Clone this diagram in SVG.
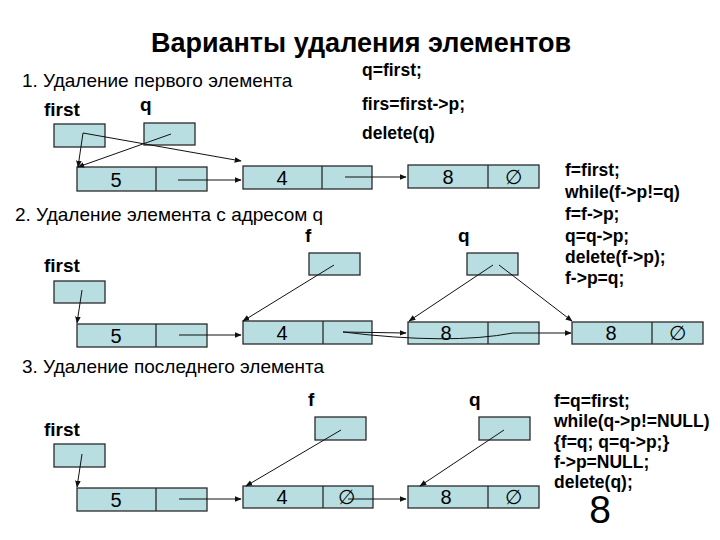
<svg xmlns="http://www.w3.org/2000/svg" width="720" height="540" viewBox="0 0 720 540">
<style>
.box{fill:#b8dee2;stroke:#2a2a2a;stroke-width:1.3}
.div{stroke:#2a2a2a;stroke-width:1.3}
.val{font-family:"Liberation Sans",Arial,sans-serif;font-size:20px;fill:#000;text-anchor:middle}
.lbl{font-family:"Liberation Sans",Arial,sans-serif;font-size:19px;font-weight:bold;fill:#000}
.hdr{font-family:"Liberation Sans",Arial,sans-serif;font-size:19px;fill:#000}
.code{font-family:"Liberation Sans",Arial,sans-serif;font-size:17.5px;font-weight:bold;fill:#000}
.ln{stroke:#111;stroke-width:1;fill:none;marker-end:url(#ah)}
.pl{stroke:#111;stroke-width:1;fill:none}
</style>
<defs>
<marker id="ah" viewBox="0 0 10 10" refX="9" refY="5" markerWidth="7" markerHeight="7" orient="auto" markerUnits="userSpaceOnUse">
<path d="M0,1 L10,5 L0,9 z" fill="#111"/>
</marker>
</defs>
<rect width="720" height="540" fill="#fff"/>
<text x="361" y="52" text-anchor="middle" font-family="'Liberation Sans',Arial,sans-serif" font-size="27" font-weight="bold">Варианты удаления элементов</text>

<!-- Section 1 -->
<text class="hdr" x="22" y="87">1. Удаление первого элемента</text>
<text class="code" x="362" y="76">q=first;</text>
<text class="code" x="362" y="110">firs=first-&gt;p;</text>
<text class="code" x="362" y="139">delete(q)</text>
<text class="lbl" x="44" y="116">first</text>
<text class="lbl" x="140" y="111">q</text>
<g id="s1-first"><rect class="box" x="54" y="124" width="51" height="23"/></g>
<g id="s1-q"><rect class="box" x="144" y="123" width="51" height="22"/></g>
<g id="s1-n5"><rect class="box" x="77" y="167" width="130" height="24"/><line class="div" x1="156" y1="167" x2="156" y2="191"/><text class="val" x="116" y="187">5</text></g>
<g id="s1-n4"><rect class="box" x="243" y="166" width="129" height="23"/><line class="div" x1="322" y1="166" x2="322" y2="189"/><text class="val" x="282" y="185">4</text></g>
<g id="s1-n8"><rect class="box" x="408" y="165" width="131" height="23"/><line class="div" x1="488" y1="165" x2="488" y2="188"/><text class="val" x="448" y="184">8</text><text class="val" x="513" y="184">∅</text></g>

<!-- Section 1 code right -->
<text class="code" x="565" y="176">f=first;</text>
<text class="code" x="565" y="198">while(f-&gt;p!=q)</text>
<text class="code" x="565" y="220">f=f-&gt;p;</text>
<text class="code" x="565" y="242">q=q-&gt;p;</text>
<text class="code" x="565" y="263">delete(f-&gt;p);</text>
<text class="code" x="565" y="284">f-&gt;p=q;</text>

<!-- Section 2 -->
<text class="hdr" x="15" y="221">2. Удаление элемента с адресом q</text>
<text class="lbl" x="44" y="272">first</text>
<text class="lbl" x="305" y="242">f</text>
<text class="lbl" x="458" y="242">q</text>
<g id="s2-first"><rect class="box" x="54" y="281" width="51" height="22"/></g>
<g id="s2-f"><rect class="box" x="309" y="253" width="51" height="22"/></g>
<g id="s2-q"><rect class="box" x="467" y="253" width="51" height="22"/></g>
<g id="s2-n5"><rect class="box" x="77" y="324" width="130" height="23"/><line class="div" x1="156" y1="324" x2="156" y2="347"/><text class="val" x="116" y="343">5</text></g>
<g id="s2-n4"><rect class="box" x="243" y="321" width="129" height="23"/><line class="div" x1="323" y1="321" x2="323" y2="344"/><text class="val" x="282" y="340">4</text></g>
<g id="s2-n8a"><rect class="box" x="408" y="322" width="131" height="22"/><line class="div" x1="488" y1="322" x2="488" y2="344"/><text class="val" x="446" y="340">8</text></g>
<g id="s2-n8b"><rect class="box" x="572" y="322" width="131" height="22"/><line class="div" x1="652" y1="322" x2="652" y2="344"/><text class="val" x="611" y="340">8</text><text class="val" x="677" y="340">∅</text></g>

<!-- Section 3 -->
<text class="hdr" x="22" y="373">3. Удаление последнего элемента</text>
<text class="lbl" x="44" y="436">first</text>
<text class="lbl" x="308" y="406">f</text>
<text class="lbl" x="469" y="406">q</text>
<g id="s3-first"><rect class="box" x="54" y="444" width="51" height="23"/></g>
<g id="s3-f"><rect class="box" x="315" y="417" width="51" height="23"/></g>
<g id="s3-q"><rect class="box" x="479" y="417" width="51" height="23"/></g>
<g id="s3-n5"><rect class="box" x="77" y="488" width="130" height="23"/><line class="div" x1="156" y1="488" x2="156" y2="511"/><text class="val" x="116" y="507">5</text></g>
<g id="s3-n4"><rect class="box" x="243" y="486" width="130" height="22"/><line class="div" x1="323" y1="486" x2="323" y2="508"/><text class="val" x="282" y="504">4</text><text class="val" x="346" y="504">∅</text></g>
<g id="s3-n8"><rect class="box" x="408" y="486" width="131" height="22"/><line class="div" x1="488" y1="486" x2="488" y2="508"/><text class="val" x="446" y="504">8</text><text class="val" x="513" y="504">∅</text></g>

<text class="code" x="554" y="407">f=q=first;</text>
<text class="code" x="554" y="427">while(q-&gt;p!=NULL)</text>
<text class="code" x="554" y="448">{f=q; q=q-&gt;p;}</text>
<text class="code" x="554" y="468">f-&gt;p=NULL;</text>
<text class="code" x="554" y="488">delete(q);</text>
<text x="600" y="523" text-anchor="middle" font-family="'Liberation Sans',Arial,sans-serif" font-size="39">8</text>

<g id="connectors">
<!-- section 1 -->
<line class="ln" x1="83" y1="133" x2="78" y2="167"/>
<line class="ln" x1="83" y1="133" x2="241" y2="161"/>
<line class="ln" x1="171" y1="134" x2="78" y2="167"/>
<line class="ln" x1="178" y1="180" x2="241" y2="180"/>
<line class="ln" x1="345" y1="177" x2="406" y2="177"/>
<!-- section 2 -->
<line class="ln" x1="82" y1="290" x2="77" y2="323"/>
<line class="ln" x1="334" y1="265" x2="243" y2="321"/>
<line class="ln" x1="179" y1="335" x2="241" y2="335"/>
<line class="ln" x1="343" y1="332" x2="406" y2="333"/>
<path class="pl" d="M343,332 Q450,345 513,333"/>
<line class="ln" x1="513" y1="333" x2="571" y2="333"/>
<line class="ln" x1="493" y1="265" x2="409" y2="321"/>
<line class="ln" x1="499" y1="265" x2="572" y2="321"/>
<!-- section 3 -->
<line class="ln" x1="82" y1="454" x2="77" y2="487"/>
<line class="ln" x1="341" y1="430" x2="246" y2="486"/>
<line class="ln" x1="179" y1="499" x2="241" y2="499"/>
<line class="ln" x1="348" y1="499" x2="406" y2="499"/>
<line class="ln" x1="504" y1="430" x2="420" y2="486"/>
</g>
</svg>
